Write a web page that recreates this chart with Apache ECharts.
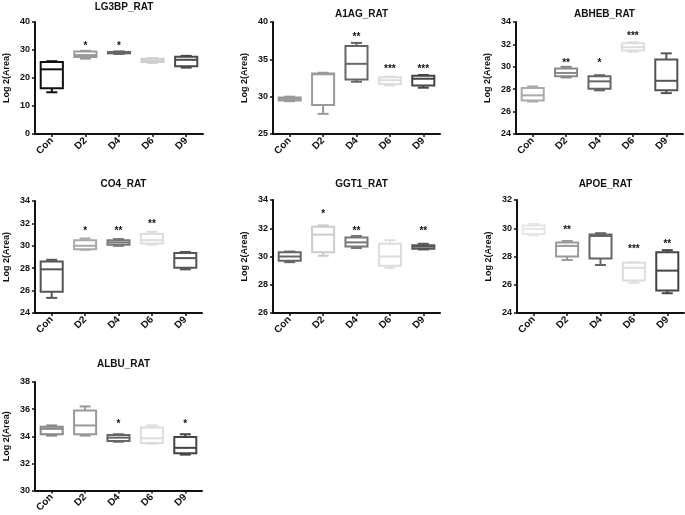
<!DOCTYPE html>
<html>
<head>
<meta charset="utf-8">
<script src="https://cdn.jsdelivr.net/npm/echarts@6/dist/echarts.min.js"></script>
<style>
html,body{margin:0;padding:0;background:#fff;}
#chart{width:685px;height:515px;}
</style>
</head>
<body>
<div id="chart"></div>
<script>
// ---------- data ----------
const categories = ['Con', 'D2', 'D4', 'D6', 'D9'];

// five-number summaries per group: [min, Q1, median, Q3, max]
const LG3BP = [[14.9, 16.3, 23.1, 25.7, 26.0], [26.9, 27.5, 28.2, 29.5, 29.7], [28.6, 28.8, 29.0, 29.3, 29.5], [25.4, 25.7, 26.2, 26.9, 27.1], [23.7, 24.2, 26.5, 27.6, 27.9]];
const A1AG  = [[29.4, 29.5, 29.7, 29.9, 30.0], [27.7, 28.9, 33.0, 33.1, 33.2], [32.0, 32.3, 34.4, 36.8, 37.2], [31.5, 31.7, 32.2, 32.6, 32.7], [31.2, 31.5, 32.4, 32.8, 32.9]];
const ABHEB = [[26.9, 27.0, 27.45, 28.1, 28.25], [29.05, 29.15, 29.45, 29.85, 30.0], [27.9, 28.05, 28.7, 29.15, 29.25], [31.35, 31.45, 31.75, 32.1, 32.2], [27.65, 27.9, 28.75, 30.65, 31.2]];
const CO4   = [[25.35, 25.9, 27.9, 28.6, 28.75], [29.65, 29.7, 30.0, 30.5, 30.65], [30.0, 30.1, 30.3, 30.5, 30.6], [30.1, 30.2, 30.5, 31.05, 31.25], [27.9, 28.05, 28.9, 29.35, 29.45]];
const GGT1  = [[29.6, 29.7, 30.0, 30.3, 30.35], [30.05, 30.3, 31.55, 32.1, 32.2], [30.6, 30.7, 31.0, 31.35, 31.45], [29.2, 29.35, 30.0, 30.9, 31.15], [30.5, 30.55, 30.7, 30.8, 30.9]];
const APOE  = [[29.5, 29.6, 29.95, 30.2, 30.3], [27.75, 28.0, 28.75, 29.0, 29.1], [27.4, 27.85, 29.45, 29.55, 29.65], [26.15, 26.3, 27.2, 27.55, 27.6], [25.4, 25.6, 27.0, 28.3, 28.45]];
const ALBU  = [[34.05, 34.15, 34.55, 34.7, 34.8], [34.05, 34.15, 34.8, 35.9, 36.2], [33.6, 33.65, 33.9, 34.1, 34.15], [33.45, 33.5, 33.85, 34.65, 34.8], [32.65, 32.75, 33.15, 33.95, 34.15]];

// significance marks and the y level they sit at
const LG3BP_stars = ['', '*', '*', '', ''];      const LG3BP_starY = [null, 32.5, 32.5, null, null];
const A1AG_stars  = ['', '', '**', '***', '***']; const A1AG_starY  = [null, null, 38.3, 34.1, 34.1];
const ABHEB_stars = ['', '**', '*', '***', ''];   const ABHEB_starY = [null, 30.6, 30.6, 33.0, null];
const CO4_stars   = ['', '*', '**', '**', ''];    const CO4_starY   = [null, 31.55, 31.55, 32.2, null];
const GGT1_stars  = ['', '*', '**', '', '**'];    const GGT1_starY  = [null, 33.2, 32.0, null, 32.0];
const APOE_stars  = ['', '**', '', '***', '**'];  const APOE_starY  = [null, 30.1, null, 28.7, 29.1];
const ALBU_stars  = ['', '', '*', '', '*'];       const ALBU_starY  = [null, null, 35.1, null, 35.1];

// axis ranges / ticks
const LG3BP_axis = [0, 40, 10];
const A1AG_axis  = [25, 40, 5];
const ABHEB_axis = [24, 34, 2];
const CO4_axis   = [24, 34, 2];
const GGT1_axis  = [26, 34, 2];
const APOE_axis  = [24, 32, 2];
const ALBU_axis  = [30, 38, 2];

// ---------- styling / layout ----------
const panels = [
  {title: 'LG3BP_RAT', box: LG3BP, stars: LG3BP_stars, starY: LG3BP_starY, axis: LG3BP_axis,
   grid: {left: 35, top: 22, width: 168, height: 112}, titleTop: -3,
   colors: ['#111111', '#9a9a9a', '#666666', '#cfcfcf', '#4a4a4a']},
  {title: 'A1AG_RAT', box: A1AG, stars: A1AG_stars, starY: A1AG_starY, axis: A1AG_axis,
   grid: {left: 273, top: 22, width: 167, height: 112}, titleTop: 4,
   colors: ['#999999', '#9a9a9a', '#666666', '#dddddd', '#444444']},
  {title: 'ABHEB_RAT', box: ABHEB, stars: ABHEB_stars, starY: ABHEB_starY, axis: ABHEB_axis,
   grid: {left: 516, top: 22, width: 167, height: 112}, titleTop: 4,
   colors: ['#aaaaaa', '#888888', '#666666', '#dddddd', '#555555']},
  {title: 'CO4_RAT', box: CO4, stars: CO4_stars, starY: CO4_starY, axis: CO4_axis,
   grid: {left: 35, top: 201, width: 167, height: 112}, titleTop: 174,
   colors: ['#555555', '#aaaaaa', '#777777', '#dddddd', '#555555']},
  {title: 'GGT1_RAT', box: GGT1, stars: GGT1_stars, starY: GGT1_starY, axis: GGT1_axis,
   grid: {left: 273, top: 200, width: 167, height: 113}, titleTop: 174,
   colors: ['#666666', '#cccccc', '#777777', '#dddddd', '#555555']},
  {title: 'APOE_RAT', box: APOE, stars: APOE_stars, starY: APOE_starY, axis: APOE_axis,
   grid: {left: 517, top: 200, width: 167, height: 113}, titleTop: 174,
   colors: ['#e6e6e6', '#999999', '#666666', '#dddddd', '#444444']},
  {title: 'ALBU_RAT', box: ALBU, stars: ALBU_stars, starY: ALBU_starY, axis: ALBU_axis,
   grid: {left: 35, top: 382, width: 167, height: 112}, titleTop: 354,
   colors: ['#888888', '#999999', '#666666', '#dddddd', '#444444']}
];

const FONT = 'Liberation Sans, Arial, sans-serif';

function makeBoxRenderer(colors) {
  return function (params, api) {
    const xi = api.value(0);
    const vals = [api.value(1), api.value(2), api.value(3), api.value(4), api.value(5)];
    const p = vals.map(v => api.coord([xi, v]));
    const cx = p[0][0];
    const band = api.size([1, 0])[0];
    const bw = band * 0.66;
    const cw = bw * 0.5;
    const c = colors[params.dataIndex];
    const st = {stroke: c, lineWidth: 2, fill: null};
    return {
      type: 'group',
      children: [
        {type: 'line', shape: {x1: cx, y1: p[4][1], x2: cx, y2: p[3][1]}, style: st},
        {type: 'line', shape: {x1: cx, y1: p[1][1], x2: cx, y2: p[0][1]}, style: st},
        {type: 'line', shape: {x1: cx - cw / 2, y1: p[4][1], x2: cx + cw / 2, y2: p[4][1]}, style: st},
        {type: 'line', shape: {x1: cx - cw / 2, y1: p[0][1], x2: cx + cw / 2, y2: p[0][1]}, style: st},
        {type: 'rect', shape: {x: cx - bw / 2, y: p[3][1], width: bw, height: p[1][1] - p[3][1]},
         style: {stroke: c, lineWidth: 2, fill: '#ffffff'}},
        {type: 'line', shape: {x1: cx - bw / 2, y1: p[2][1], x2: cx + bw / 2, y2: p[2][1]}, style: st}
      ]
    };
  };
}

function makeStarRenderer(pn) {
  const idxs = pn.starY.map((v, k) => v === null ? -1 : k).filter(k => k >= 0);
  return function (params, api) {
    const xi = api.value(0);
    const pt = api.coord([xi, api.value(1)]);
    return {
      type: 'text', x: pt[0], y: pt[1] + 3,
      style: {text: pn.stars[idxs[params.dataIndex]], fill: '#111', font: 'bold 10px ' + FONT,
              align: 'center', verticalAlign: 'middle'}
    };
  };
}

const option = {
  animation: false,
  backgroundColor: '#ffffff',
  title: [], grid: [], xAxis: [], yAxis: [], series: []
};

panels.forEach((pn, i) => {
  option.title.push({
    text: pn.title, left: pn.grid.left + pn.grid.width / 2, top: pn.titleTop, textAlign: 'center',
    textStyle: {fontFamily: FONT, fontWeight: 'bold', fontSize: 10, color: '#111'}
  });
  option.grid.push(Object.assign({containLabel: false}, pn.grid));
  option.xAxis.push({
    type: 'category', gridIndex: i, data: categories,
    axisLine: {lineStyle: {color: '#111', width: 2}},
    axisTick: {show: true, alignWithLabel: true, length: 3, lineStyle: {color: '#111', width: 1.5}},
    axisLabel: {rotate: 45, fontFamily: FONT, fontWeight: 'bold', fontSize: 10, color: '#111', margin: 5, interval: 0},
    splitLine: {show: false}
  });
  option.yAxis.push({
    type: 'value', gridIndex: i, min: pn.axis[0], max: pn.axis[1], interval: pn.axis[2],
    name: 'Log 2(Area)', nameLocation: 'middle', nameGap: 24, nameRotate: 90,
    nameTextStyle: {fontFamily: FONT, fontWeight: 'bold', fontSize: 9, color: '#111'},
    axisLine: {show: true, lineStyle: {color: '#111', width: 2}},
    axisTick: {show: true, length: 3, lineStyle: {color: '#111', width: 1.5}},
    axisLabel: {fontFamily: FONT, fontWeight: 'bold', fontSize: 9, color: '#111', margin: 5},
    splitLine: {show: false}
  });
  option.series.push({
    type: 'custom', xAxisIndex: i, yAxisIndex: i,
    renderItem: makeBoxRenderer(pn.colors),
    data: pn.box.map((b, k) => [k].concat(b))
  });
  option.series.push({
    type: 'custom', xAxisIndex: i, yAxisIndex: i,
    renderItem: makeStarRenderer(pn),
    data: pn.starY.map((v, k) => [k, v]).filter(d => d[1] !== null),
    encode: {x: 0, y: 1}
  });
});

const chart = echarts.init(document.getElementById('chart'), null, {renderer: 'canvas'});
chart.setOption(option);
</script>
</body>
</html>
